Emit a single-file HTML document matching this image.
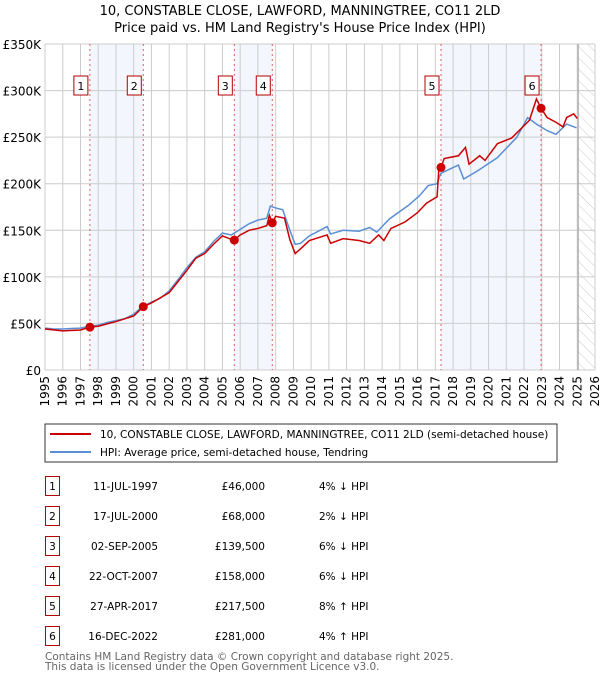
<!DOCTYPE html>
<html><head><meta charset="utf-8"><style>
body{margin:0;background:#fff;font-family:"DejaVu Sans","Liberation Sans",sans-serif;}
svg text{font-family:"DejaVu Sans","Liberation Sans",sans-serif;}
</style></head><body>
<svg id="c" width="600" height="680" xmlns="http://www.w3.org/2000/svg">
<defs><pattern id="hatch" width="8" height="8" patternUnits="userSpaceOnUse" patternTransform="rotate(-45)"><line x1="0" y1="0" x2="0" y2="8" stroke="#ccc" stroke-width="1"/></pattern></defs>
<text x="300" y="15" text-anchor="middle" font-size="13">10, CONSTABLE CLOSE, LAWFORD, MANNINGTREE, CO11 2LD</text>
<text x="300" y="32" text-anchor="middle" font-size="13">Price paid vs. HM Land Registry's House Price Index (HPI)</text>
<g id="plot"></g>
<rect x="45" y="424" width="512" height="38" fill="#fff" stroke="#333"/>
<line x1="50" y1="434" x2="91" y2="434" stroke="#cc0000" stroke-width="2"/>
<text x="100" y="438" font-size="10.5">10, CONSTABLE CLOSE, LAWFORD, MANNINGTREE, CO11 2LD (semi-detached house)</text>
<line x1="50" y1="452" x2="91" y2="452" stroke="#5b8fd4" stroke-width="2"/>
<text x="100" y="456" font-size="10.5">HPI: Average price, semi-detached house, Tendring</text>
<g id="tbl"></g>
<text x="45" y="660" font-size="10.5" fill="#666">Contains HM Land Registry data © Crown copyright and database right 2025.</text>
<text x="45" y="670" font-size="10.5" fill="#666">This data is licensed under the Open Government Licence v3.0.</text>
</svg>
<script>
const yTicks=[0,50,100,150,200,250,300,350];
const yTickLabels=["£0","£50K","£100K","£150K","£200K","£250K","£300K","£350K"];
const years=[1995,1996,1997,1998,1999,2000,2001,2002,2003,2004,2005,2006,2007,2008,2009,2010,2011,2012,2013,2014,2015,2016,2017,2018,2019,2020,2021,2022,2023,2024,2025,2026];
const hpiT=[1995,1995.5,1996,1996.5,1997,1997.5,1998,1998.5,1999,1999.5,2000,2000.5,2001,2001.5,2002,2002.5,2003,2003.5,2004,2004.5,2005,2005.5,2006,2006.5,2007,2007.5,2007.7,2008,2008.4,2008.8,2009.1,2009.4,2009.9,2010.3,2010.9,2011.1,2011.8,2012.7,2013.3,2013.7,2014.4,2015.5,2016.1,2016.6,2017.1,2017.3,2018.3,2018.6,2019.4,2020.5,2021.6,2022.2,2022.7,2023.3,2023.8,2024.4,2024.96];
const hpiV=[45,44,44,44.5,45,47,48,51,53,55,60,68,73,77,85,97,110,121,127,138,147,145,151,157,161,163,176,174,172,150,135,136,144,148,154,146,150,149,153,148,162,177,187,198,200,211,220,205,214,228,250,271,264,257,253,264,260];
const ppT=[1995,1996,1997,1997.53,1998,1999,2000,2000.54,2001,2002,2002.5,2003,2003.5,2004,2004.5,2005,2005.4,2005.67,2006,2006.5,2007,2007.5,2007.65,2007.81,2008,2008.5,2008.8,2009.1,2009.4,2009.9,2010.9,2011.1,2011.8,2012.7,2013.3,2013.8,2014.1,2014.5,2015.3,2016,2016.5,2017.1,2017.2,2017.32,2017.5,2018.3,2018.7,2018.9,2019.5,2019.8,2020.5,2021.3,2022.3,2022.7,2022.96,2023.3,2023.8,2024.2,2024.4,2024.8,2025.0];
const ppV=[44,42,43,46,47,52,58,68,72,83,95,107,120,125,135,144,141,139.5,145,150,152,155,166,158,165,163,140,125,130,139,145,136,141,139,136,145,139,152,159,169,179,186,217,217.5,227,230,239,221,230,225,243,249,268,291,281,271,266,261,271,275,270];
const saleLabels=["1","2","3","4","5","6"];
const saleT=[1997.53,2000.54,2005.67,2007.81,2017.32,2022.96];
const saleV=[46,68,139.5,158,217.5,281];
const saleDates=["11-JUL-1997","17-JUL-2000","02-SEP-2005","22-OCT-2007","27-APR-2017","16-DEC-2022"];
const salePrices=["£46,000","£68,000","£139,500","£158,000","£217,500","£281,000"];
const saleHpi=["4% ↓ HPI","2% ↓ HPI","6% ↓ HPI","6% ↓ HPI","8% ↑ HPI","4% ↑ HPI"];
const X0=45,X1=595,Y0=370,Y1=44;
const xs=t=>X0+(t-1995)/31*(X1-X0);
const ys=v=>Y0-v/350*(Y0-Y1);
const NS="http://www.w3.org/2000/svg";
function mk(p,tag,a){const e=document.createElementNS(NS,tag);for(const k in a)e.setAttribute(k,a[k]);p.appendChild(e);return e;}
const g=document.getElementById('plot');
for(let i=0;i<saleT.length;i+=2){const r=mk(g,'rect',{x:xs(saleT[i]),y:Y1,width:xs(saleT[i+1])-xs(saleT[i]),height:Y0-Y1,fill:'#f3f6fd'});

}
const h=mk(g,'rect',{x:xs(2025),y:Y1,width:X1-xs(2025),height:Y0-Y1,fill:'url(#hatch)'});


years.forEach(y=>{const l=mk(g,'line',{x1:xs(y),x2:xs(y),y1:Y1,y2:Y0,stroke:'#ccc','stroke-width':1});


const t=mk(g,'text',{x:0,y:0,'font-size':12,'text-anchor':'end',transform:`translate(${xs(y)+4},376) rotate(-90)`});t.textContent=y;

});
yTicks.forEach((v,i)=>{const l=mk(g,'line',{x1:X0,x2:X1,y1:ys(v),y2:ys(v),stroke:'#ccc','stroke-width':1});


const t=mk(g,'text',{x:41,y:ys(v)+5,'font-size':12,'text-anchor':'end'});t.textContent=yTickLabels[i];

});
const vl=mk(g,'line',{x1:xs(2025.05),x2:xs(2025.05),y1:Y1,y2:Y0,stroke:'#999','stroke-width':1});


saleT.forEach((t,i)=>{const l=mk(g,'line',{x1:xs(t),x2:xs(t),y1:Y1,y2:Y0,stroke:'#e06060','stroke-width':1,'stroke-dasharray':'2,3'});


const b=mk(g,'rect',{x:xs(t)-16,y:76,width:14,height:19,fill:'#fff',stroke:'#b00000'});


const tx=mk(g,'text',{x:xs(t)-9,y:90,'font-size':11,'text-anchor':'middle'});tx.textContent=saleLabels[i];

});
const hp=mk(g,'polyline',{points:hpiT.map((t,i)=>xs(t)+','+ys(hpiV[i])).join(' '),fill:'none',stroke:'#5b8fd4','stroke-width':1.5});


const pp=mk(g,'polyline',{points:ppT.map((t,i)=>xs(t)+','+ys(ppV[i])).join(' '),fill:'none',stroke:'#cc0000','stroke-width':1.5});


saleT.forEach((t,i)=>{const c=mk(g,'circle',{cx:xs(t),cy:ys(saleV[i]),r:4.5,fill:'#cc0000'});

});
const tb=document.getElementById('tbl');
saleT.forEach((t,i)=>{const y=476+i*30;
const b=mk(tb,'rect',{x:45.5,y:y+0.5,width:14,height:19,fill:'#fff',stroke:'#b00000'});


const cells=[[saleLabels[i],52.5,'middle'],[saleDates[i],158,'end'],[salePrices[i],265,'end'],[saleHpi[i],319,'start']];
cells.forEach(c=>{const e=mk(tb,'text',{x:c[1],y:y+14,'font-size':10.5,'text-anchor':c[2]});e.textContent=c[0];

});});
</script>
</body></html>
